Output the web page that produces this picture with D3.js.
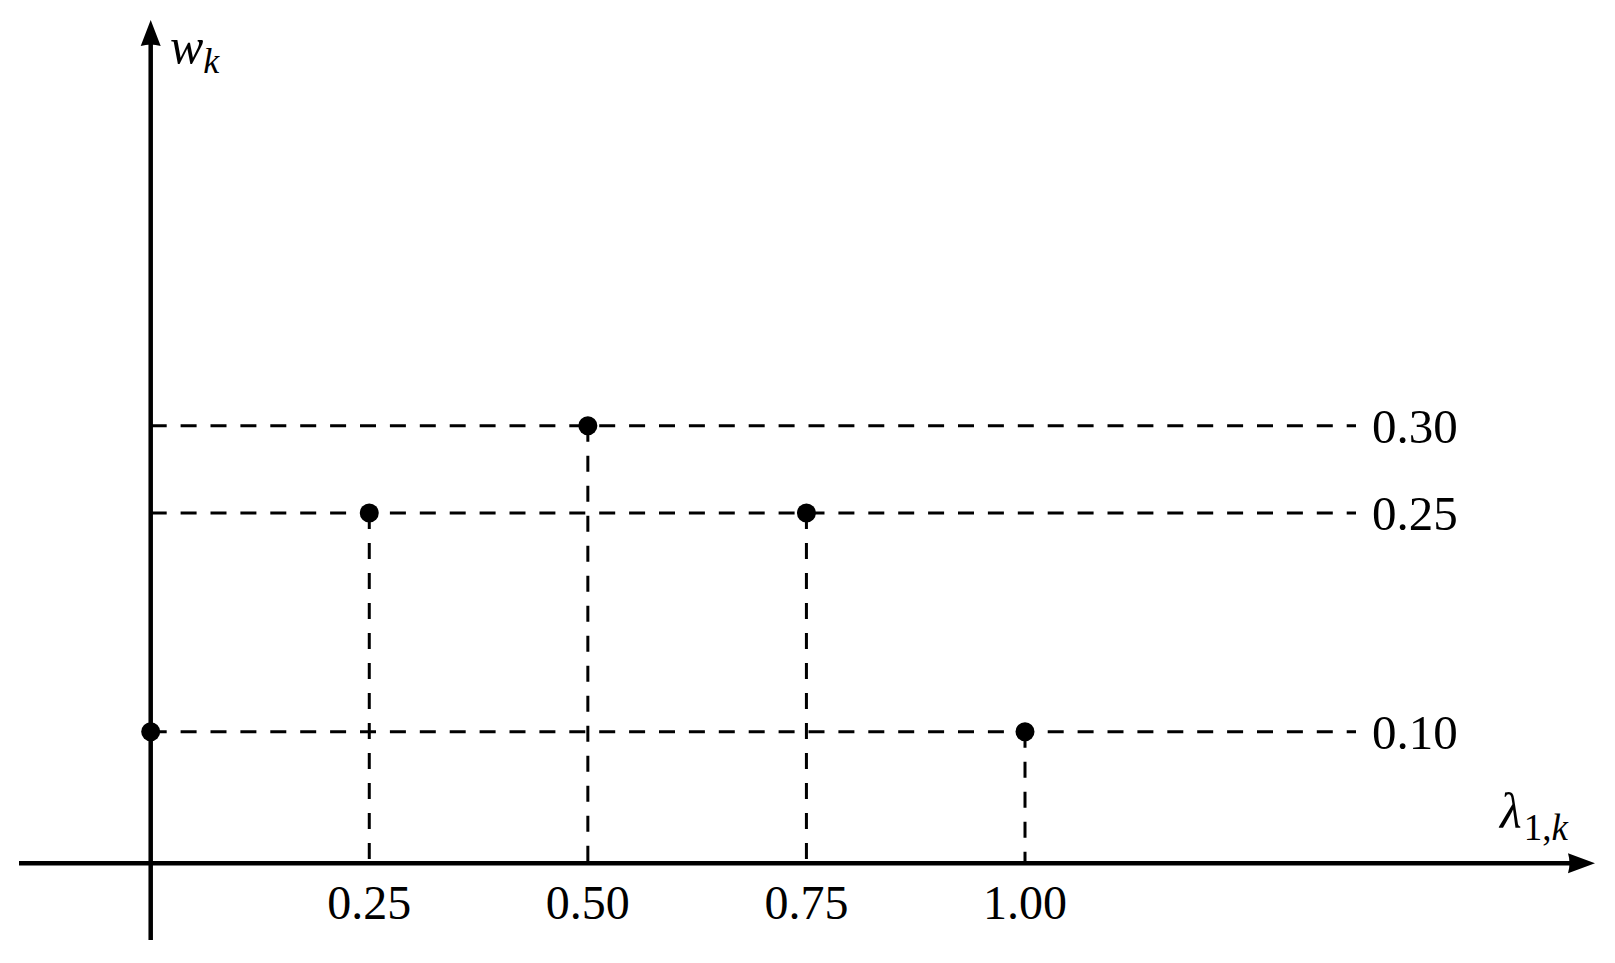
<!DOCTYPE html>
<html>
<head>
<meta charset="utf-8">
<script src="https://cdn.jsdelivr.net/npm/d3@7"></script>
<style>
  body { margin: 0; background: #fff; }
  svg { display: block; }
  text { font-family: "Liberation Serif", "Times New Roman", serif; fill: #000; }
</style>
</head>
<body>
<svg id="render" width="1615" height="963"></svg>
<script>
// values
const lambdas = [0, 0.25, 0.50, 0.75, 1.00];
const weights = [0.10, 0.25, 0.30, 0.25, 0.10];
const xTicks = [0.25, 0.50, 0.75, 1.00];
const yTicks = [0.10, 0.25, 0.30];

const svg = d3.select("svg#render");
const fmt = d3.format(".2f");

const x = d3.scaleLinear()
    .domain([0, 1])
    .range([150.7, 1025]);
// the y positions in the source are not proportional, so use a piecewise scale
const y = d3.scaleLinear()
    .domain([0, 0.10, 0.25, 0.30])
    .range([863.3, 731.7, 513, 425.7]);

const xAxisLeft = 19, xAxisRight = 1595;
const yAxisTop = 20, yAxisBottom = 940;
const guideEnd = 1356;

// horizontal guides
svg.append("g")
    .selectAll("line")
    .data(yTicks)
    .enter()
    .append("line")
    .attr("x1", x(0))
    .attr("x2", guideEnd)
    .attr("y1", d => y(d))
    .attr("y2", d => y(d))
    .attr("stroke", "#000")
    .attr("stroke-width", 3)
    .attr("stroke-dasharray", "16 13.9");

// vertical drops
const pts = lambdas.map((l, i) => ({l: l, w: weights[i]}));
svg.append("g")
    .selectAll("line")
    .data(pts.filter(d => d.l > 0))
    .enter()
    .append("line")
    .attr("x1", d => x(d.l))
    .attr("x2", d => x(d.l))
    .attr("y1", d => y(d.w))
    .attr("y2", y(0))
    .attr("stroke", "#000")
    .attr("stroke-width", 3)
    .attr("stroke-dasharray", "16 14");

// axes
svg.append("line")
    .attr("x1", xAxisLeft).attr("x2", xAxisRight - 20)
    .attr("y1", y(0)).attr("y2", y(0))
    .attr("stroke", "#000").attr("stroke-width", 4.5);
svg.append("line")
    .attr("x1", x(0)).attr("x2", x(0))
    .attr("y1", yAxisBottom).attr("y2", yAxisTop + 20)
    .attr("stroke", "#000").attr("stroke-width", 4.5);

// arrow heads
svg.append("path")
    .attr("d", `M${xAxisRight},${y(0)} L${xAxisRight - 27},${y(0) - 10} Q${xAxisRight - 24},${y(0)} ${xAxisRight - 27},${y(0) + 10} Z`)
    .attr("fill", "#000");
svg.append("path")
    .attr("d", `M${x(0)},${yAxisTop} L${x(0) - 10},${yAxisTop + 26} Q${x(0)},${yAxisTop + 23} ${x(0) + 10},${yAxisTop + 26} Z`)
    .attr("fill", "#000");

// points
svg.append("g")
    .selectAll("circle")
    .data(pts)
    .enter()
    .append("circle")
    .attr("cx", d => x(d.l))
    .attr("cy", d => y(d.w))
    .attr("r", 9.5)
    .attr("fill", "#000");

// tick labels
svg.append("g")
    .selectAll("text")
    .data(xTicks)
    .enter()
    .append("text")
    .attr("x", d => x(d))
    .attr("y", y(0) + 56)
    .attr("text-anchor", "middle")
    .attr("font-size", 48)
    .text(d => fmt(d));

svg.append("g")
    .selectAll("text")
    .data(yTicks)
    .enter()
    .append("text")
    .attr("x", 1372)
    .attr("y", d => y(d) + 17)
    .attr("font-size", 49)
    .text(d => fmt(d));

// axis titles
const wLabel = svg.append("text")
    .attr("x", 170)
    .attr("y", 63)
    .attr("font-size", 50)
    .attr("font-style", "italic");
wLabel.append("tspan").text("w");
wLabel.append("tspan").attr("dy", 10).attr("font-size", 36).text("k");

const lLabel = svg.append("text")
    .attr("x", 1500)
    .attr("y", 828)
    .attr("font-size", 50)
    .attr("font-style", "italic");
lLabel.append("tspan").text("λ");
lLabel.append("tspan").attr("dy", 12).attr("dx", 2).attr("font-size", 37).attr("font-style", "normal").text("1,");
lLabel.append("tspan").attr("font-size", 37).text("k");
</script>
</body>
</html>
